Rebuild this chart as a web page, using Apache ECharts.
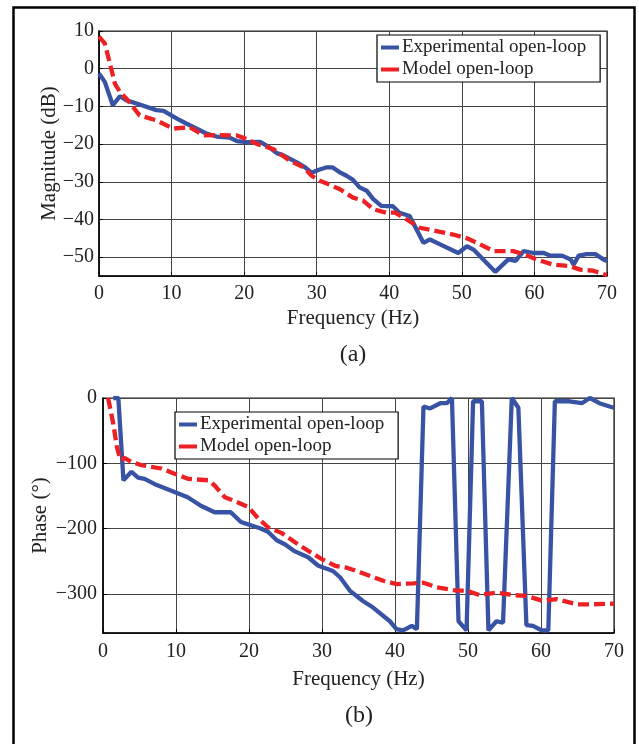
<!DOCTYPE html>
<html>
<head>
<meta charset="utf-8">
<script src="https://cdn.jsdelivr.net/npm/echarts@6/dist/echarts.min.js"></script>
<style>html,body{margin:0;padding:0;background:#fff;}#c{width:639px;height:744px;}</style>
</head>
<body>
<div id="c"></div>
<script>
// ---- Data ----
const xTicks = [0, 10, 20, 30, 40, 50, 60, 70];
const magTicks = [10, 0, -10, -20, -30, -40, -50];
const phaseTicks = [0, -100, -200, -300];
const seriesNames = ['Experimental open-loop', 'Model open-loop'];

const freqExpMag = [0, 0.8, 1.9, 2.9, 3.8, 5.6, 7.9, 8.9, 10.8, 12.5, 14.8, 16.2, 18, 19, 20.3, 22.2, 23.1, 24.5, 25.4, 27.2, 28.4, 29.3, 30.3, 31.3, 32.2, 33.2, 34.1, 35.0, 35.9, 36.9, 37.8, 38.9, 40.5, 41.4, 42.8, 44.7, 45.6, 47.0, 49.5, 50.7, 51.6, 54.6, 56.4, 57.4, 58.5, 59.9, 61.3, 62.2, 63.8, 65.0, 65.4, 66.1, 67.2, 68.4, 69.5, 70];
const expMag = [-1.3, -3.5, -9.7, -7.3, -8.4, -9.5, -11, -11.2, -13.3, -15, -17.2, -18, -18.3, -19.2, -19.5, -19.4, -20.4, -22.4, -23, -24.8, -26.2, -27.6, -26.8, -26.2, -26.2, -27.5, -28.4, -29.5, -31.5, -32.4, -34.6, -36.4, -36.5, -38.2, -39.1, -46.2, -45.3, -46.6, -48.9, -47.1, -48, -53.9, -50.6, -51, -48.4, -48.9, -48.9, -49.6, -49.6, -50.6, -52, -49.6, -49.2, -49.2, -50.6, -51];

const freqModMag = [0, 0.8, 1.5, 2.2, 2.9, 3.8, 5.6, 7.9, 10.2, 12.5, 14.4, 16.2, 19, 19.9, 21.8, 24, 26.3, 28.2, 29.3, 30.4, 31.8, 33.2, 35, 36.4, 37.8, 39.6, 40.8, 42.4, 44.2, 46.5, 48.8, 50.7, 52.5, 54.4, 57.1, 58.5, 60.3, 62.6, 64.9, 66.3, 68.1, 70];
const modMag = [8.5, 6.7, 1.4, -4, -6.2, -8, -12.4, -13.7, -15.9, -15.5, -17.7, -17.6, -17.7, -18.3, -20, -21.3, -24.4, -26.2, -28.4, -29.7, -30.8, -32, -34.2, -35, -37.3, -38.2, -38.2, -40, -42.2, -43.1, -44, -45, -46.6, -48.4, -48.4, -49.2, -50.6, -52, -52.4, -53.3, -53.6, -54.8];

const freqExpPh = [1.4, 2.1, 2.8, 3.9, 4.8, 5.7, 7.1, 9.8, 11.6, 13.4, 15.3, 17.5, 18.9, 21.6, 22.6, 23.8, 24.9, 26.3, 28.1, 29.5, 31.5, 32.5, 33.8, 35.6, 37.0, 39.3, 40.2, 41.1, 42.3, 43.0, 43.9, 44.8, 46.2, 47.1, 47.8, 48.7, 49.8, 50.7, 51.9, 52.8, 53.9, 54.8, 56.0, 56.9, 58.0, 58.9, 60.1, 61.0, 61.9, 63.9, 65.6, 66.7, 68.0, 69.4, 70];
const expPh = [0, 0, -126, -113, -122, -124, -132, -144, -152, -165, -175, -175, -190, -200, -205, -218, -224, -235, -244, -257, -265, -275, -295, -311, -321, -342, -354, -356, -349, -354, -13, -16, -8, -8, 0, -342, -356, -5, -5, -356, -342, -344, 0, -15, -348, -349, -356, -356, -5, -5, -8, 0, -8, -13, -15];

const freqModPh = [0.7, 1.4, 1.9, 2.4, 3.0, 3.9, 5.3, 8.0, 9.8, 11.7, 14.4, 15.3, 16.7, 18.5, 19.9, 21.3, 22.6, 24.5, 26.3, 28.1, 30.0, 31.8, 33.4, 35.2, 38.4, 40.2, 42.5, 43.9, 45.7, 48.4, 49.8, 51.6, 53.9, 56.2, 58.0, 60.3, 62.1, 64.9, 67.2, 70];
const modPh = [0, -39, -75, -95, -92, -98, -103, -108, -116, -124, -126, -134, -152, -160, -167, -185, -198, -207, -221, -234, -247, -257, -260, -267, -280, -285, -284, -283, -290, -295, -295, -302, -298, -302, -303, -311, -308, -316, -316, -315];

// ---- Styling ----
const FONT = 'Liberation Serif';
const BLUE = '#3953a4';
const RED = '#ed2024';
const zip = (xs, ys) => xs.map((x, i) => [x, ys[i]]);
const minus = v => String(v).replace('-', '\u2212');

function xAxisCfg(gridIndex, margin, nameGap) {
  return {
    gridIndex, type: 'value', min: xTicks[0], max: xTicks[xTicks.length - 1], interval: xTicks[1] - xTicks[0],
    name: 'Frequency (Hz)', nameLocation: 'middle', nameGap,
    nameTextStyle: { fontFamily: FONT, fontSize: 21, color: '#222' },
    axisLine: { show: true, onZero: false, lineStyle: { color: '#000', width: 1.5 } },
    axisTick: { show: true, inside: true, length: 4, lineStyle: { color: '#000' } },
    axisLabel: { margin, fontFamily: FONT, fontSize: 20, color: '#222',
      formatter: v => xTicks.includes(v) ? String(v) : '' },
    splitLine: { show: true, lineStyle: { color: '#444', width: 1 } }
  };
}
function yAxisCfg(gridIndex, ticks, min, name, nameGap, margin) {
  return {
    gridIndex, type: 'value', min, max: ticks[0], splitNumber: ticks.length - 1,
    name, nameLocation: 'middle', nameGap, nameMoveOverlap: false,
    nameTextStyle: { fontFamily: FONT, fontSize: 21, color: '#222' },
    axisLine: { show: true, onZero: false, lineStyle: { color: '#000', width: 1.5 } },
    axisTick: { show: true, inside: true, length: 4, lineStyle: { color: '#000' } },
    axisLabel: { margin, fontFamily: FONT, fontSize: 20, color: '#222',
      formatter: v => ticks.includes(v) ? minus(v) : '' },
    splitLine: { show: true, lineStyle: { color: '#444', width: 1 } }
  };
}
function legendCfg(left, top) {
  return {
    left, top, orient: 'vertical', itemGap: 3, itemWidth: 18, itemHeight: 4,
    padding: [3, 14, 3, 4], borderColor: '#000', borderWidth: 1.2, backgroundColor: '#fff',
    textStyle: { fontFamily: FONT, fontSize: 19, color: '#222', padding: [0, 0, 0, -2] },
    selectedMode: false,
    data: [
      { name: seriesNames[0], icon: 'rect', itemStyle: { color: BLUE } },
      { name: seriesNames[1], icon: 'rect', itemStyle: { color: RED } }
    ]
  };
}
function lineSeries(name, xi, yi, data, color, dashed) {
  return {
    name, type: 'line', xAxisIndex: xi, yAxisIndex: yi, data, showSymbol: false, symbol: 'none',
    clip: true, animation: false, z: dashed ? 3 : 2,
    lineStyle: { color, width: 4.3, type: dashed ? [11, 5] : 'solid' },
    itemStyle: { color }
  };
}

const chart = echarts.init(document.getElementById('c'), null, { renderer: 'canvas' });
chart.setOption({
  backgroundColor: '#fff',
  animation: false,
  grid: [
    { left: 99, top: 31, width: 508, height: 245, show: true, borderColor: '#222', borderWidth: 1.2, backgroundColor: 'transparent' },
    { left: 103, top: 398, width: 511, height: 235, show: true, borderColor: '#222', borderWidth: 1.2, backgroundColor: 'transparent' }
  ],
  xAxis: [xAxisCfg(0, 8, 32), xAxisCfg(1, 9, 36)],
  yAxis: [
    yAxisCfg(0, magTicks, -55, 'Magnitude (dB)', 39, 5),
    yAxisCfg(1, phaseTicks, -360, 'Phase (\u00b0)', 52, 6)
  ],
  legend: [legendCfg(377, 35), legendCfg(175, 412)],
  series: [
    lineSeries(seriesNames[0], 0, 0, zip(freqExpMag, expMag), BLUE, false),
    lineSeries(seriesNames[1], 0, 0, zip(freqModMag, modMag), RED, true),
    lineSeries(seriesNames[0], 1, 1, zip(freqExpPh, expPh), BLUE, false),
    lineSeries(seriesNames[1], 1, 1, zip(freqModPh, modPh), RED, true)
  ],
  graphic: [
    { type: 'rect', left: 11, top: 5, shape: { width: 621, height: 750 }, silent: true,
      style: { fill: 'none', stroke: '#000', lineWidth: 2.5 } },
    { type: 'text', x: 353, y: 355, style: { text: '(a)', fontFamily: FONT, fontSize: 24, fill: '#222', textAlign: 'center', textVerticalAlign: 'middle' } },
    { type: 'text', x: 359, y: 716, style: { text: '(b)', fontFamily: FONT, fontSize: 24, fill: '#222', textAlign: 'center', textVerticalAlign: 'middle' } }
  ]
});
</script>
</body>
</html>
